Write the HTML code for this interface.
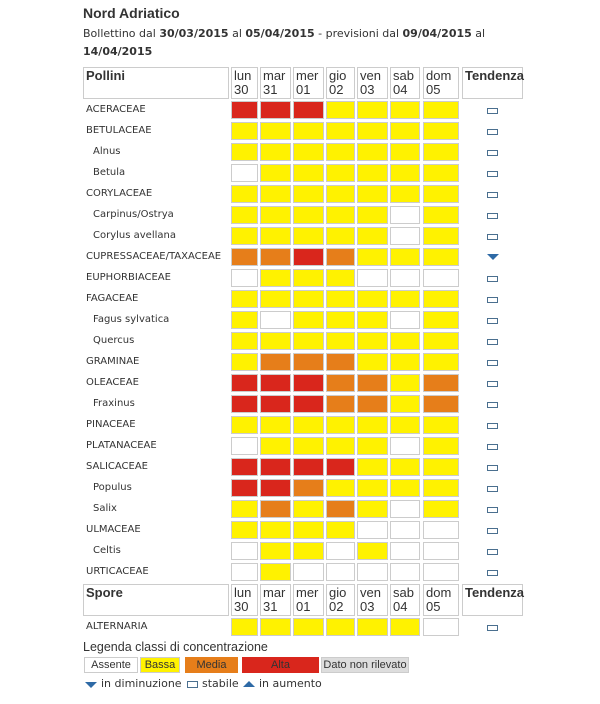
<!DOCTYPE html>
<html><head><meta charset="utf-8"><style>
*{margin:0;padding:0;box-sizing:border-box}
body{width:600px;height:704px;background:#fff;position:relative;font-family:"DejaVu Sans","Liberation Sans",sans-serif;color:#333;overflow:hidden}
.a{position:absolute}
.r{position:absolute;left:0;width:600px;height:21px}
.r span{position:absolute;top:0;height:18px;border:1px solid #ccc}
.l{position:absolute;left:86px;top:3px;font-size:10px;color:#333;white-space:nowrap}
.l.i{left:93px}
.c1{left:231px;width:27px}.c2{left:260px;width:31px}.c3{left:293px;width:31px}.c4{left:326px;width:29px}.c5{left:357px;width:31px}.c6{left:390px;width:30px}.c7{left:423px;width:36px}
.y{background:#fff200}.R{background:#d9261c}.o{background:#e67e1a}.w{background:#fff}
.s{position:absolute;left:487px;top:7px;width:11px;height:6px;border:1px solid #4a6f8f}
.d{position:absolute;left:487px;top:6px;width:0;height:0;border-left:6px solid transparent;border-right:6px solid transparent;border-top:6px solid #2e6aa6}
.h{position:absolute;border:1px solid #ccc;font-family:"Liberation Sans",sans-serif;font-size:13px;line-height:14px;padding:1px 2px;color:#333}
.hb{font-weight:bold}
</style></head><body>
<div class="a" style="left:83px;top:5px;font-size:14px;font-weight:bold;font-family:'Liberation Sans',sans-serif">Nord Adriatico</div>
<div class="a" style="left:83px;top:25px;font-size:11px;line-height:18px;width:410px">Bollettino dal <b>30/03/2015</b> al <b>05/04/2015</b> - previsioni dal <b>09/04/2015</b> al <b>14/04/2015</b></div>

<div class="h hb" style="left:83px;top:67px;width:146px;height:32px">Pollini</div>
<div class="h" style="left:231px;top:67px;width:27px;height:32px">lun<br>30</div>
<div class="h" style="left:260px;top:67px;width:31px;height:32px">mar<br>31</div>
<div class="h" style="left:293px;top:67px;width:31px;height:32px">mer<br>01</div>
<div class="h" style="left:326px;top:67px;width:29px;height:32px">gio<br>02</div>
<div class="h" style="left:357px;top:67px;width:31px;height:32px">ven<br>03</div>
<div class="h" style="left:390px;top:67px;width:30px;height:32px">sab<br>04</div>
<div class="h" style="left:423px;top:67px;width:36px;height:32px">dom<br>05</div>
<div class="h hb" style="left:462px;top:67px;width:61px;height:32px">Tendenza</div>

<div class="r" style="top:101px"><div class="l">ACERACEAE</div><span class="c1 R"></span><span class="c2 R"></span><span class="c3 R"></span><span class="c4 y"></span><span class="c5 y"></span><span class="c6 y"></span><span class="c7 y"></span><div class="s"></div></div>
<div class="r" style="top:122px"><div class="l">BETULACEAE</div><span class="c1 y"></span><span class="c2 y"></span><span class="c3 y"></span><span class="c4 y"></span><span class="c5 y"></span><span class="c6 y"></span><span class="c7 y"></span><div class="s"></div></div>
<div class="r" style="top:143px"><div class="l i">Alnus</div><span class="c1 y"></span><span class="c2 y"></span><span class="c3 y"></span><span class="c4 y"></span><span class="c5 y"></span><span class="c6 y"></span><span class="c7 y"></span><div class="s"></div></div>
<div class="r" style="top:164px"><div class="l i">Betula</div><span class="c1 w"></span><span class="c2 y"></span><span class="c3 y"></span><span class="c4 y"></span><span class="c5 y"></span><span class="c6 y"></span><span class="c7 y"></span><div class="s"></div></div>
<div class="r" style="top:185px"><div class="l">CORYLACEAE</div><span class="c1 y"></span><span class="c2 y"></span><span class="c3 y"></span><span class="c4 y"></span><span class="c5 y"></span><span class="c6 y"></span><span class="c7 y"></span><div class="s"></div></div>
<div class="r" style="top:206px"><div class="l i">Carpinus/Ostrya</div><span class="c1 y"></span><span class="c2 y"></span><span class="c3 y"></span><span class="c4 y"></span><span class="c5 y"></span><span class="c6 w"></span><span class="c7 y"></span><div class="s"></div></div>
<div class="r" style="top:227px"><div class="l i">Corylus avellana</div><span class="c1 y"></span><span class="c2 y"></span><span class="c3 y"></span><span class="c4 y"></span><span class="c5 y"></span><span class="c6 w"></span><span class="c7 y"></span><div class="s"></div></div>
<div class="r" style="top:248px"><div class="l">CUPRESSACEAE/TAXACEAE</div><span class="c1 o"></span><span class="c2 o"></span><span class="c3 R"></span><span class="c4 o"></span><span class="c5 y"></span><span class="c6 y"></span><span class="c7 y"></span><div class="d"></div></div>
<div class="r" style="top:269px"><div class="l">EUPHORBIACEAE</div><span class="c1 w"></span><span class="c2 y"></span><span class="c3 y"></span><span class="c4 y"></span><span class="c5 w"></span><span class="c6 w"></span><span class="c7 w"></span><div class="s"></div></div>
<div class="r" style="top:290px"><div class="l">FAGACEAE</div><span class="c1 y"></span><span class="c2 y"></span><span class="c3 y"></span><span class="c4 y"></span><span class="c5 y"></span><span class="c6 y"></span><span class="c7 y"></span><div class="s"></div></div>
<div class="r" style="top:311px"><div class="l i">Fagus sylvatica</div><span class="c1 y"></span><span class="c2 w"></span><span class="c3 y"></span><span class="c4 y"></span><span class="c5 y"></span><span class="c6 w"></span><span class="c7 y"></span><div class="s"></div></div>
<div class="r" style="top:332px"><div class="l i">Quercus</div><span class="c1 y"></span><span class="c2 y"></span><span class="c3 y"></span><span class="c4 y"></span><span class="c5 y"></span><span class="c6 y"></span><span class="c7 y"></span><div class="s"></div></div>
<div class="r" style="top:353px"><div class="l">GRAMINAE</div><span class="c1 y"></span><span class="c2 o"></span><span class="c3 o"></span><span class="c4 o"></span><span class="c5 y"></span><span class="c6 y"></span><span class="c7 y"></span><div class="s"></div></div>
<div class="r" style="top:374px"><div class="l">OLEACEAE</div><span class="c1 R"></span><span class="c2 R"></span><span class="c3 R"></span><span class="c4 o"></span><span class="c5 o"></span><span class="c6 y"></span><span class="c7 o"></span><div class="s"></div></div>
<div class="r" style="top:395px"><div class="l i">Fraxinus</div><span class="c1 R"></span><span class="c2 R"></span><span class="c3 R"></span><span class="c4 o"></span><span class="c5 o"></span><span class="c6 y"></span><span class="c7 o"></span><div class="s"></div></div>
<div class="r" style="top:416px"><div class="l">PINACEAE</div><span class="c1 y"></span><span class="c2 y"></span><span class="c3 y"></span><span class="c4 y"></span><span class="c5 y"></span><span class="c6 y"></span><span class="c7 y"></span><div class="s"></div></div>
<div class="r" style="top:437px"><div class="l">PLATANACEAE</div><span class="c1 w"></span><span class="c2 y"></span><span class="c3 y"></span><span class="c4 y"></span><span class="c5 y"></span><span class="c6 w"></span><span class="c7 y"></span><div class="s"></div></div>
<div class="r" style="top:458px"><div class="l">SALICACEAE</div><span class="c1 R"></span><span class="c2 R"></span><span class="c3 R"></span><span class="c4 R"></span><span class="c5 y"></span><span class="c6 y"></span><span class="c7 y"></span><div class="s"></div></div>
<div class="r" style="top:479px"><div class="l i">Populus</div><span class="c1 R"></span><span class="c2 R"></span><span class="c3 o"></span><span class="c4 y"></span><span class="c5 y"></span><span class="c6 y"></span><span class="c7 y"></span><div class="s"></div></div>
<div class="r" style="top:500px"><div class="l i">Salix</div><span class="c1 y"></span><span class="c2 o"></span><span class="c3 y"></span><span class="c4 o"></span><span class="c5 y"></span><span class="c6 w"></span><span class="c7 y"></span><div class="s"></div></div>
<div class="r" style="top:521px"><div class="l">ULMACEAE</div><span class="c1 y"></span><span class="c2 y"></span><span class="c3 y"></span><span class="c4 y"></span><span class="c5 w"></span><span class="c6 w"></span><span class="c7 w"></span><div class="s"></div></div>
<div class="r" style="top:542px"><div class="l i">Celtis</div><span class="c1 w"></span><span class="c2 y"></span><span class="c3 y"></span><span class="c4 w"></span><span class="c5 y"></span><span class="c6 w"></span><span class="c7 w"></span><div class="s"></div></div>
<div class="r" style="top:563px"><div class="l">URTICACEAE</div><span class="c1 w"></span><span class="c2 y"></span><span class="c3 w"></span><span class="c4 w"></span><span class="c5 w"></span><span class="c6 w"></span><span class="c7 w"></span><div class="s"></div></div>

<div class="h hb" style="left:83px;top:584px;width:146px;height:32px">Spore</div>
<div class="h" style="left:231px;top:584px;width:27px;height:32px">lun<br>30</div>
<div class="h" style="left:260px;top:584px;width:31px;height:32px">mar<br>31</div>
<div class="h" style="left:293px;top:584px;width:31px;height:32px">mer<br>01</div>
<div class="h" style="left:326px;top:584px;width:29px;height:32px">gio<br>02</div>
<div class="h" style="left:357px;top:584px;width:31px;height:32px">ven<br>03</div>
<div class="h" style="left:390px;top:584px;width:30px;height:32px">sab<br>04</div>
<div class="h" style="left:423px;top:584px;width:36px;height:32px">dom<br>05</div>
<div class="h hb" style="left:462px;top:584px;width:61px;height:32px">Tendenza</div>

<div class="r" style="top:618px"><div class="l">ALTERNARIA</div><span class="c1 y"></span><span class="c2 y"></span><span class="c3 y"></span><span class="c4 y"></span><span class="c5 y"></span><span class="c6 y"></span><span class="c7 w"></span><div class="s"></div></div>

<div class="a" style="left:83px;top:640px;font-size:12.5px;font-family:'Liberation Sans',sans-serif">Legenda classi di concentrazione</div>
<div class="a" style="left:84px;top:657px;width:54px;height:16px;border:1px solid #ccc;font:11px 'Liberation Sans',sans-serif;text-align:center;line-height:14px">Assente</div>
<div class="a" style="left:140px;top:657px;width:40px;height:16px;border:1px solid #ccc;background:#fff200;font:11px 'Liberation Sans',sans-serif;text-align:center;line-height:14px">Bassa</div>
<div class="a" style="left:185px;top:657px;width:53px;height:16px;background:#e67e1a;font:11px 'Liberation Sans',sans-serif;text-align:center;line-height:16px">Media</div>
<div class="a" style="left:242px;top:657px;width:77px;height:16px;background:#d9261c;font:11px 'Liberation Sans',sans-serif;text-align:center;line-height:16px">Alta</div>
<div class="a" style="left:321px;top:657px;width:88px;height:16px;background:#ddd;border:1px solid #ccc;font:11px 'Liberation Sans',sans-serif;text-align:center;line-height:14px">Dato non rilevato</div>

<div class="a" style="left:85px;top:682px;width:0;height:0;border-left:6px solid transparent;border-right:6px solid transparent;border-top:6px solid #2e6aa6"></div>
<div class="a" style="left:101px;top:677px;font-size:11px">in diminuzione</div>
<div class="a" style="left:187px;top:681px;width:11px;height:7px;border:1px solid #4a6f8f"></div>
<div class="a" style="left:202px;top:677px;font-size:11px">stabile</div>
<div class="a" style="left:243px;top:681px;width:0;height:0;border-left:6px solid transparent;border-right:6px solid transparent;border-bottom:6px solid #2e6aa6"></div>
<div class="a" style="left:259px;top:677px;font-size:11px">in aumento</div>
</body></html>
